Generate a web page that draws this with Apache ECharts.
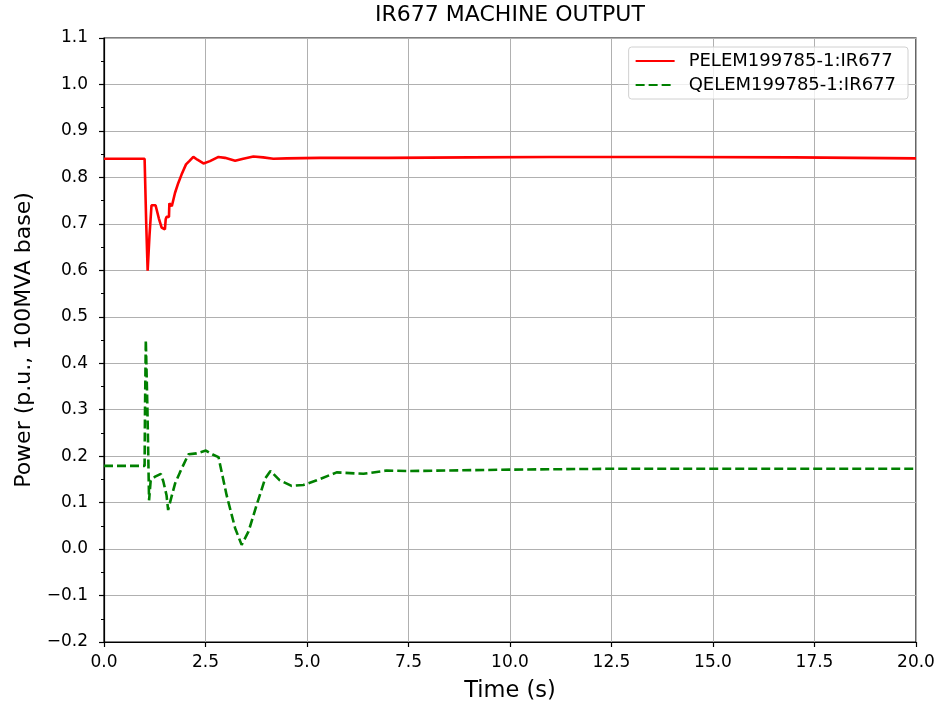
<!DOCTYPE html>
<html>
<head>
<meta charset="utf-8">
<script src="https://cdn.jsdelivr.net/npm/echarts@6/dist/echarts.min.js"></script>
<style>
  html, body { margin: 0; padding: 0; background: #fff; }
  #chart { width: 939px; height: 708px; }
</style>
</head>
<body>
<div id="chart"></div>
<script>
// 数据：时间 (s) 与功率 (p.u.)
const pTime = [0, 1.0, 1.04, 1.075, 1.12, 1.17, 1.27, 1.35, 1.42, 1.50, 1.52, 1.54, 1.60, 1.61, 1.67, 1.75, 1.83, 1.91, 2.02, 2.10, 2.20, 2.30, 2.45, 2.61, 2.82, 2.98, 3.23, 3.43, 3.68, 3.92, 4.17, 4.5, 5.32, 7.0, 9.0, 11.0, 14.0, 17.0, 20.0];
const pValue = [0.840, 0.840, 0.700, 0.599, 0.674, 0.740, 0.740, 0.712, 0.692, 0.688, 0.710, 0.715, 0.715, 0.744, 0.738, 0.767, 0.788, 0.806, 0.828, 0.835, 0.844, 0.838, 0.830, 0.835, 0.844, 0.842, 0.836, 0.840, 0.845, 0.843, 0.840, 0.841, 0.842, 0.842, 0.843, 0.844, 0.844, 0.843, 0.841];

const qTime = [0, 1.0, 1.01, 1.03, 1.07, 1.11, 1.15, 1.26, 1.40, 1.46, 1.54, 1.58, 1.61, 1.67, 1.75, 1.87, 2.08, 2.28, 2.51, 2.69, 2.82, 3.02, 3.23, 3.39, 3.56, 3.76, 3.97, 4.10, 4.33, 4.62, 4.91, 5.24, 5.73, 6.39, 6.96, 7.54, 10.0, 12.7, 15.0, 20.0];
const qValue = [0.179, 0.179, 0.300, 0.450, 0.300, 0.105, 0.148, 0.156, 0.162, 0.146, 0.116, 0.084, 0.095, 0.115, 0.141, 0.165, 0.204, 0.206, 0.212, 0.203, 0.198, 0.116, 0.045, 0.009, 0.038, 0.095, 0.152, 0.168, 0.148, 0.136, 0.138, 0.148, 0.165, 0.162, 0.169, 0.168, 0.171, 0.173, 0.173, 0.173];

const seriesNames = ['PELEM199785-1:IR677', 'QELEM199785-1:IR677'];
const xTicks = { min: 0, max: 20, interval: 2.5 };
const yTicks = { min: -0.2, max: 1.1, interval: 0.1 };

const font = 'DejaVu Sans';
const myChart = echarts.init(document.getElementById('chart'), null, { renderer: 'canvas' });

const fmt = v => {
  const s = v.toFixed(1);
  return s.startsWith('-') ? '\u2212' + s.slice(1) : s;
};

const options = {
  animation: false,
  textStyle: { fontFamily: font },
  // 标题（居中于绘图区）
  graphic: [{
    type: 'text',
    x: 510,
    y: 4,
    style: {
      text: 'IR677 MACHINE OUTPUT', font: '22px "DejaVu Sans"', fill: '#000',
      align: 'center', verticalAlign: 'top'
    }
  }],
  grid: {
    left: 104, right: 23, top: 38, bottom: 64,
    show: true, borderColor: '#000', borderWidth: 1.2, backgroundColor: 'transparent'
  },
  legend: {
    right: 31, top: 47,
    orient: 'vertical',
    itemWidth: 39, itemHeight: 14, itemGap: 6,
    padding: [5, 12, 5, 6],
    backgroundColor: 'rgba(255,255,255,0.8)',
    borderColor: '#d0d0d0', borderWidth: 1, borderRadius: 3,
    itemStyle: { opacity: 0 },
    textStyle: { fontFamily: font, fontSize: 18, color: '#000', padding: [0, 0, 0, 9] },
    data: seriesNames
  },
  xAxis: {
    type: 'value',
    min: xTicks.min, max: xTicks.max, interval: xTicks.interval,
    name: 'Time (s)', nameLocation: 'middle', nameGap: 38,
    nameTextStyle: { fontFamily: font, fontSize: 22.5, color: '#000' },
    axisLine: { show: true, onZero: false, lineStyle: { color: '#000', width: 1.2 } },
    axisTick: { show: true, inside: false, length: 5, lineStyle: { color: '#000', width: 1.2 } },
    axisLabel: { fontFamily: font, fontSize: 17, color: '#000', margin: 12, formatter: fmt },
    splitLine: { show: true, lineStyle: { color: '#b0b0b0', width: 1 } }
  },
  yAxis: {
    type: 'value',
    min: yTicks.min, max: yTicks.max, interval: yTicks.interval,
    name: 'Power (p.u., 100MVA base)', nameLocation: 'middle', nameGap: 69,
    nameTextStyle: { fontFamily: font, fontSize: 22, color: '#000' },
    axisLine: { show: true, onZero: false, lineStyle: { color: '#000', width: 1.2 } },
    axisTick: { show: true, inside: false, length: 5, lineStyle: { color: '#000', width: 1.2 } },
    minorTick: { show: true, splitNumber: 2, length: 3, lineStyle: { color: '#000', width: 1 } },
    axisLabel: { fontFamily: font, fontSize: 17, color: '#000', margin: 16, formatter: fmt },
    splitLine: { show: true, lineStyle: { color: '#b0b0b0', width: 1 } }
  },
  series: [
    {
      name: seriesNames[0],
      type: 'line',
      data: pTime.map((t, i) => [t, pValue[i]]),
      showSymbol: false, symbol: 'none',
      lineStyle: { color: '#ff0000', width: 2.6 },
      itemStyle: { color: '#ff0000' }
    },
    {
      name: seriesNames[1],
      type: 'line',
      data: qTime.map((t, i) => [t, qValue[i]]),
      showSymbol: false, symbol: 'none',
      lineStyle: { color: '#008000', width: 2.6, type: [9, 4] },
      itemStyle: { color: '#008000' }
    }
  ]
};

myChart.setOption(options);
</script>
</body>
</html>
